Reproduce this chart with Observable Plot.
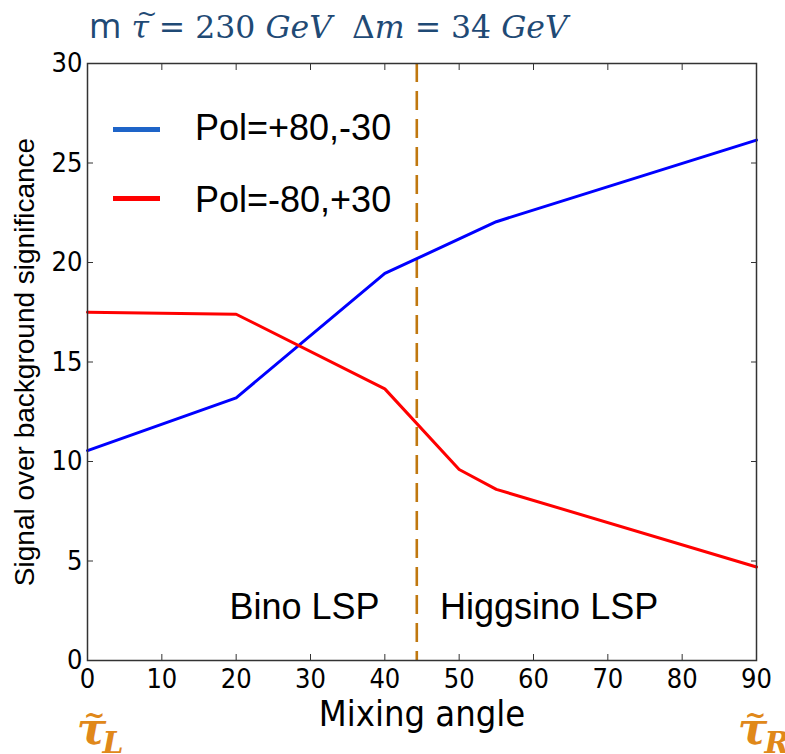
<!DOCTYPE html>
<html>
<head>
<meta charset="utf-8">
<script src="https://cdn.jsdelivr.net/npm/d3@7"></script>
<script src="https://cdn.jsdelivr.net/npm/@observablehq/plot@0.6"></script>
<style>
  html, body { margin: 0; padding: 0; background: #fff; }
  #wrap { position: relative; width: 785px; height: 754px; overflow: hidden; }
  #title { position: relative; height: 50px; }
  #title .t { position: absolute; left: 89px; top: 7px; font-family: "DejaVu Serif", serif; font-size: 31.5px; line-height: 1; color: #1F4A75; white-space: pre; }
  #title .m { font-family: "Open Sans", "Liberation Sans", sans-serif; font-style: normal; font-size: 35px; }
  #title i { font-style: italic; }
  #title .tau { position: relative; display: inline-block; font-style: italic; }
  #title .tilde { position: absolute; left: 5px; top: -11px; font-style: normal; font-size: 25px; }
  .leg-line { position: absolute; left: 113px; width: 47px; height: 5px; }
  .leg-text { position: absolute; left: 195px; font-family: "Liberation Sans", Arial, sans-serif; font-size: 36px; line-height: 1; color: #000; white-space: nowrap; }
</style>
</head>
<body>
<div id="wrap">
  <div id="title"><div class="t"><span class="m">m</span> <span class="tau">τ<span class="tilde">~</span></span> = 230 <i>GeV</i>  Δ<i>m</i> = 34 <i>GeV</i></div></div>
  <div id="chart"></div>
</div>
<script>
// ---- data ----
const seriesNames = ["Pol=+80,-30", "Pol=-80,+30"];
const lineColors = ["#0000ff", "#ff0000"];
const legendColors = ["#1E64C8", "#ff0000"];

const blueAngles = [0, 20, 40, 55, 90];
const blueValues = [10.55, 13.2, 19.45, 22.05, 26.15];

const redAngles = [0, 20, 40, 50, 55, 90];
const redValues = [17.5, 17.4, 13.65, 9.6, 8.6, 4.7];

const xTicks = [0, 10, 20, 30, 40, 50, 60, 70, 80, 90];
const yTicks = [0, 5, 10, 15, 20, 25, 30];

const boundaryAngle = [44.3];
const regionLabels = ["Bino LSP", "Higgsino LSP"];
const regionX = [29.2, 62.1];
const regionY = [2.65, 2.65];

const xLabel = "Mixing angle";
const yLabel = "Signal over background significance";

// ---- build tables ----
const blue = blueAngles.map((a, i) => ({angle: a, value: blueValues[i]}));
const red = redAngles.map((a, i) => ({angle: a, value: redValues[i]}));
const regions = regionLabels.map((t, i) => ({text: t, x: regionX[i], y: regionY[i]}));

const tickFont = "'DejaVu Sans Condensed', 'Liberation Sans Narrow', 'DejaVu Sans', sans-serif";
const mathFont = "'DejaVu Serif', 'Liberation Serif', serif";
const orange = "#E0881A";

const chart = Plot.plot({
  width: 785,
  height: 704,
  marginTop: 13,
  marginLeft: 87,
  marginRight: 29,
  marginBottom: 94,
  style: {fontFamily: tickFont, fontSize: "27px", color: "#000", background: "#fff", overflow: "visible"},
  x: {domain: [0, 90]},
  y: {domain: [0, 30]},
  marks: [
    Plot.ruleX(boundaryAngle, {stroke: "#C0780F", strokeWidth: 2.6, strokeDasharray: "19,9"}),
    Plot.line(blue, {x: "angle", y: "value", stroke: lineColors[0], strokeWidth: 3}),
    Plot.line(red, {x: "angle", y: "value", stroke: lineColors[1], strokeWidth: 3}),
    Plot.frame({stroke: "#333", strokeWidth: 1.5}),
    Plot.axisX({ticks: xTicks, tickSize: -6, tickPadding: 14, label: null, stroke: "#333"}),
    Plot.axisX({anchor: "top", ticks: xTicks, tickSize: -6, tickFormat: () => "", label: null, stroke: "#333"}),
    Plot.axisY({ticks: yTicks, tickSize: -6, tickPadding: 11, label: null, stroke: "#333"}),
    Plot.axisY({anchor: "right", ticks: yTicks, tickSize: -6, tickFormat: () => "", label: null, stroke: "#333"}),
    Plot.text(regions, {x: "x", y: "y", text: "text", fontSize: 36, fontFamily: "'Liberation Sans', Arial, sans-serif", fill: "#000"}),
    Plot.text([xLabel], {text: d => d, frameAnchor: "bottom", textAnchor: "middle", lineAnchor: "bottom", dy: 65, fontSize: 36, fontFamily: tickFont, fill: "#000"}),
    Plot.text([yLabel], {text: d => d, frameAnchor: "left", textAnchor: "middle", lineAnchor: "middle", rotate: -90, dx: -62, fontSize: 28, fontFamily: "'Liberation Sans', Arial, sans-serif", fill: "#000"}),
    // tau_L
    Plot.text(["τ"], {text: d => d, frameAnchor: "bottom-left", textAnchor: "middle", lineAnchor: "bottom", dx: 4, dy: 83, fontSize: 44, fontStyle: "italic", fontWeight: "bold", fontFamily: mathFont, fill: orange}),
    Plot.text(["~"], {text: d => d, frameAnchor: "bottom-left", textAnchor: "middle", lineAnchor: "middle", dx: 7, dy: 55, fontSize: 26, fontWeight: "bold", fontFamily: mathFont, fill: orange}),
    Plot.text(["L"], {text: d => d, frameAnchor: "bottom-left", textAnchor: "start", lineAnchor: "bottom", dx: 15, dy: 92, fontSize: 30, fontStyle: "italic", fontWeight: "bold", fontFamily: mathFont, fill: orange}),
    // tau_R
    Plot.text(["τ"], {text: d => d, frameAnchor: "bottom-right", textAnchor: "middle", lineAnchor: "bottom", dx: -4, dy: 83, fontSize: 44, fontStyle: "italic", fontWeight: "bold", fontFamily: mathFont, fill: orange}),
    Plot.text(["~"], {text: d => d, frameAnchor: "bottom-right", textAnchor: "middle", lineAnchor: "middle", dx: -1, dy: 55, fontSize: 26, fontWeight: "bold", fontFamily: mathFont, fill: orange}),
    Plot.text(["R"], {text: d => d, frameAnchor: "bottom-right", textAnchor: "start", lineAnchor: "bottom", dx: 8, dy: 92, fontSize: 30, fontStyle: "italic", fontWeight: "bold", fontFamily: mathFont, fill: orange})
  ]
});
document.getElementById("chart").appendChild(chart);

// legend overlay (inside the plot area, as in the reference)
const wrap = document.getElementById("wrap");
const legTops = [129, 198];
const textTops = [110, 182];
seriesNames.forEach((name, i) => {
  const ln = document.createElement("div");
  ln.className = "leg-line";
  ln.style.top = (legTops[i] - 2.5) + "px";
  ln.style.background = legendColors[i];
  wrap.appendChild(ln);
  const tx = document.createElement("div");
  tx.className = "leg-text";
  tx.style.top = textTops[i] + "px";
  tx.textContent = name;
  wrap.appendChild(tx);
});
</script>
</body>
</html>
